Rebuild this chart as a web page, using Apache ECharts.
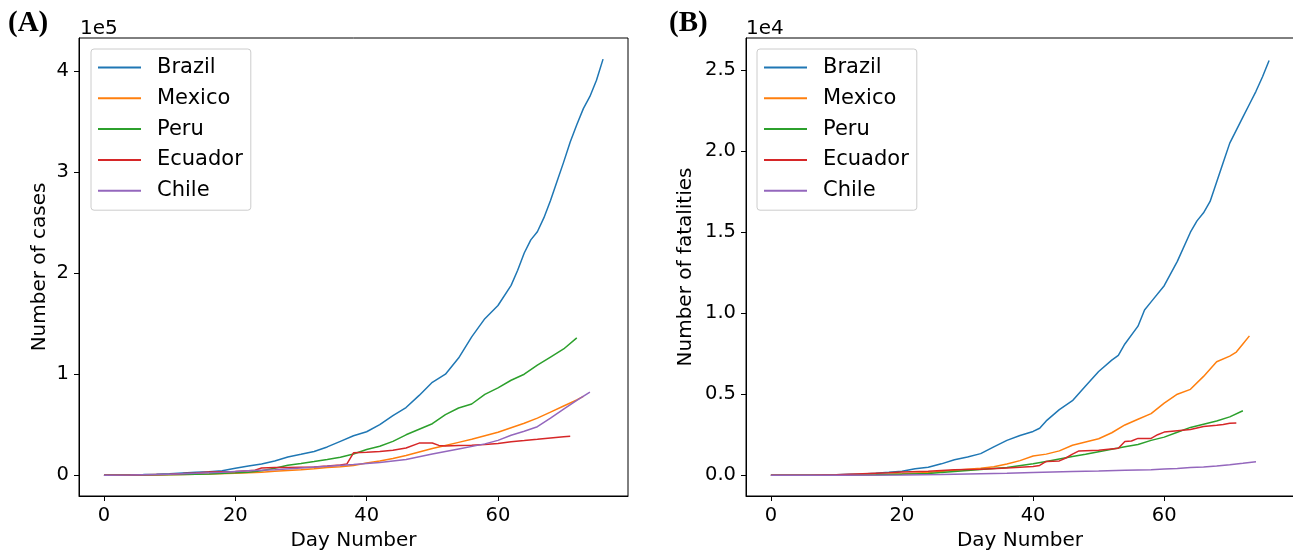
<!DOCTYPE html>
<html>
<head>
<meta charset="utf-8">
<script src="https://cdn.jsdelivr.net/npm/echarts@6/dist/echarts.min.js"></script>
<style>
  html, body { margin: 0; padding: 0; background: #fff; }
  #chart { width: 1293px; height: 553px; }
</style>
</head>
<body>
<div id="chart"></div>
<script>
// countries and matplotlib tab10 colours
const countries = ['Brazil', 'Mexico', 'Peru', 'Ecuador', 'Chile'];
const colors = ['#1f77b4', '#ff7f0e', '#2ca02c', '#d62728', '#9467bd'];

// tick values
const dayTicks = [0, 20, 40, 60];
const caseTicks = [0, 100000, 200000, 300000, 400000];
const deathTicks = [0, 5000, 10000, 15000, 20000, 25000];

// (A) cumulative cases, [day, value]
const brazilCases = [[0,80],[2,150],[4,300],[6,620],[8,1000],[10,1550],[12,2250],[14,2900],[16,3500],[18,4500],[20,6800],[22,9000],[24,11000],[26,14000],[28,18000],[30,20700],[32,23500],[34,28000],[36,33500],[38,39000],[40,43000],[42,50000],[44,59000],[46,67000],[48,79000],[50,92000],[52,100000],[54,116000],[56,137000],[58,155000],[60,168000],[62,188000],[63,203000],[64,220000],[65,233000],[66,241000],[67,255000],[68,272000],[69,291000],[70,310000],[71,330000],[72,347000],[73,363000],[74,375000],[75,391000],[76,412000]];
const mexicoCases = [[0,40],[4,90],[8,250],[12,600],[16,1100],[20,1900],[22,2400],[24,3000],[26,3800],[28,4600],[30,5400],[32,6300],[34,7500],[36,8300],[38,9500],[40,12000],[42,14000],[44,16500],[46,19500],[48,23000],[50,26500],[52,29500],[54,32500],[56,35500],[58,39000],[60,42500],[62,47000],[64,51500],[66,56500],[68,62500],[70,68500],[72,74500],[73,78000]];
const peruCases = [[0,40],[4,150],[8,400],[12,700],[16,1300],[20,2300],[22,2950],[24,4300],[26,6800],[28,9800],[30,11500],[32,13500],[34,15600],[36,17800],[38,21000],[40,25500],[42,28700],[44,33500],[46,40000],[48,45500],[50,51000],[52,60000],[54,66500],[56,70500],[58,80000],[60,86500],[62,94000],[64,100000],[66,109000],[68,117000],[70,125000],[72,136000]];
const ecuadorCases = [[0,60],[4,200],[8,800],[10,1050],[12,1600],[14,2200],[16,3100],[18,3500],[20,3750],[22,4500],[23,4950],[24,7200],[26,7500],[28,7600],[30,7900],[32,8200],[34,9000],[36,10100],[37,11200],[38,22200],[40,22800],[42,23500],[44,24700],[46,27000],[48,31800],[50,31800],[51,29500],[52,28800],[54,29500],[56,29600],[58,30500],[60,31500],[62,33200],[64,34300],[66,35500],[68,36800],[70,38000],[71,38500]];
const chileCases = [[0,60],[4,240],[8,630],[10,920],[14,1900],[18,3000],[22,4500],[26,5500],[30,7200],[34,8800],[38,10500],[42,12500],[46,15500],[50,21000],[54,26000],[58,31000],[60,34500],[62,39500],[64,43500],[66,48000],[68,56500],[70,65500],[72,74000],[74,82300]];

// (B) cumulative fatalities, [day, value]
const brazilDeaths = [[0,0],[6,0],[8,7],[10,25],[12,57],[14,80],[16,120],[18,180],[20,245],[22,400],[24,490],[26,700],[28,950],[30,1120],[32,1330],[34,1750],[36,2150],[38,2450],[40,2700],[41,2900],[42,3350],[44,4050],[46,4600],[48,5500],[50,6400],[52,7100],[53,7400],[54,8100],[56,9200],[57,10200],[58,10700],[60,11700],[62,13200],[64,15000],[65,15700],[66,16200],[67,16900],[68,18100],[69,19300],[70,20500],[72,22100],[73,22900],[74,23700],[75,24600],[76,25600]];
const mexicoDeaths = [[0,0],[8,0],[12,4],[16,20],[20,90],[24,170],[28,300],[32,430],[34,520],[36,690],[38,900],[40,1180],[42,1300],[44,1500],[46,1850],[48,2050],[50,2250],[52,2620],[54,3100],[56,3450],[58,3800],[60,4450],[62,5000],[64,5300],[66,6100],[68,7000],[70,7350],[71,7600],[72,8100],[73,8600]];
const peruDeaths = [[0,0],[10,3],[16,20],[20,60],[24,100],[28,230],[32,350],[36,480],[40,700],[42,850],[44,1000],[46,1150],[48,1290],[50,1450],[52,1600],[54,1750],[56,1900],[58,2150],[60,2350],[62,2650],[64,2950],[66,3150],[68,3350],[70,3600],[72,3980]];
const ecuadorDeaths = [[0,0],[6,3],[10,30],[14,90],[18,150],[20,190],[24,250],[28,330],[32,360],[36,450],[40,540],[41,600],[42,850],[44,880],[45,1060],[46,1300],[47,1500],[50,1540],[53,1660],[54,2080],[55,2110],[56,2270],[58,2270],[59,2500],[60,2660],[62,2750],[64,2820],[66,3000],[68,3080],[69,3130],[70,3200],[71,3220]];
const chileDeaths = [[0,0],[10,1],[20,12],[26,40],[30,80],[36,120],[40,170],[46,230],[50,260],[54,300],[58,340],[60,380],[62,420],[64,470],[66,510],[68,570],[70,640],[72,730],[74,830]];

const casesData = [brazilCases, mexicoCases, peruCases, ecuadorCases, chileCases];
const deathsData = [brazilDeaths, mexicoDeaths, peruDeaths, ecuadorDeaths, chileDeaths];

const FONT = 'DejaVu Sans';

function xAxisFor(gridIndex) {
  return {
    type: 'value', gridIndex: gridIndex, min: -3.8, max: 79.8,
    name: 'Day Number', nameLocation: 'middle', nameGap: 34,
    nameTextStyle: { fontFamily: FONT, fontSize: 20, color: '#000' },
    axisLine: { onZero: false, lineStyle: { color: '#000', width: 1 } },
    axisTick: { inside: false, length: 5, customValues: dayTicks, lineStyle: { color: '#000' } },
    axisLabel: { customValues: dayTicks, margin: 10, fontFamily: FONT, fontSize: 19.5, color: '#000' },
    splitLine: { show: false }
  };
}

function yAxisFor(gridIndex, name, min, max, ticks, gap, fmt) {
  return {
    type: 'value', gridIndex: gridIndex, min: min, max: max,
    name: name, nameLocation: 'middle', nameGap: gap, nameRotate: 90,
    nameTextStyle: { fontFamily: FONT, fontSize: 20, color: '#000' },
    axisLine: { show: true, onZero: false, lineStyle: { color: '#000', width: 1 } },
    axisTick: { show: true, inside: false, length: 5, customValues: ticks, lineStyle: { color: '#000' } },
    axisLabel: { customValues: ticks, margin: 10, fontFamily: FONT, fontSize: 19.5, color: '#000', formatter: fmt },
    splitLine: { show: false }
  };
}

function legendFor(left) {
  return {
    data: countries, orient: 'vertical', left: left, top: 49, icon: 'rect',
    padding: [8, 8, 9, 7], itemWidth: 43, itemHeight: 2, itemGap: 9.8,
    backgroundColor: 'rgba(255,255,255,0.8)', borderColor: '#cccccc', borderWidth: 1, borderRadius: 3,
    textStyle: { fontFamily: FONT, fontSize: 21, color: '#000', padding: [0, 0, 0, 11] }
  };
}

const series = [];
countries.forEach((c, i) => {
  series.push({ name: c, type: 'line', xAxisIndex: 0, yAxisIndex: 0, data: casesData[i],
    symbol: 'none', lineStyle: { width: 1.5, color: colors[i] }, itemStyle: { color: colors[i] } });
});
countries.forEach((c, i) => {
  series.push({ name: c, type: 'line', xAxisIndex: 1, yAxisIndex: 1, data: deathsData[i],
    symbol: 'none', lineStyle: { width: 1.5, color: colors[i] }, itemStyle: { color: colors[i] } });
});

const chart = echarts.init(document.getElementById('chart'));
chart.setOption({
  animation: false,
  backgroundColor: '#fff',
  grid: [
    { left: 79, top: 38, width: 549, height: 458, show: true, borderColor: '#000', borderWidth: 1,
      containLabel: false, outerBoundsMode: 'none' },
    { left: 746, top: 38, width: 548, height: 458, show: true, borderColor: '#000', borderWidth: 1,
      containLabel: false, outerBoundsMode: 'none' }
  ],
  xAxis: [xAxisFor(0), xAxisFor(1)],
  yAxis: [
    yAxisFor(0, 'Number of cases', -20600, 432900, caseTicks, 29, v => String(v / 100000)),
    yAxisFor(1, 'Number of fatalities', -1285, 26990, deathTicks, 50, v => (v / 10000).toFixed(1))
  ],
  legend: [legendFor(91), legendFor(757)],
  graphic: [
    { type: 'text', left: 8, top: 9, style: { text: '(A)', font: 'bold 29px "Liberation Serif"', fill: '#000' } },
    { type: 'text', left: 80, top: 19, style: { text: '1e5', font: '20px "DejaVu Sans"', fill: '#000' } },
    { type: 'text', left: 669, top: 9, style: { text: '(B)', font: 'bold 29px "Liberation Serif"', fill: '#000' } },
    { type: 'text', left: 746, top: 19, style: { text: '1e4', font: '20px "DejaVu Sans"', fill: '#000' } }
  ],
  series: series
});
</script>
</body>
</html>
